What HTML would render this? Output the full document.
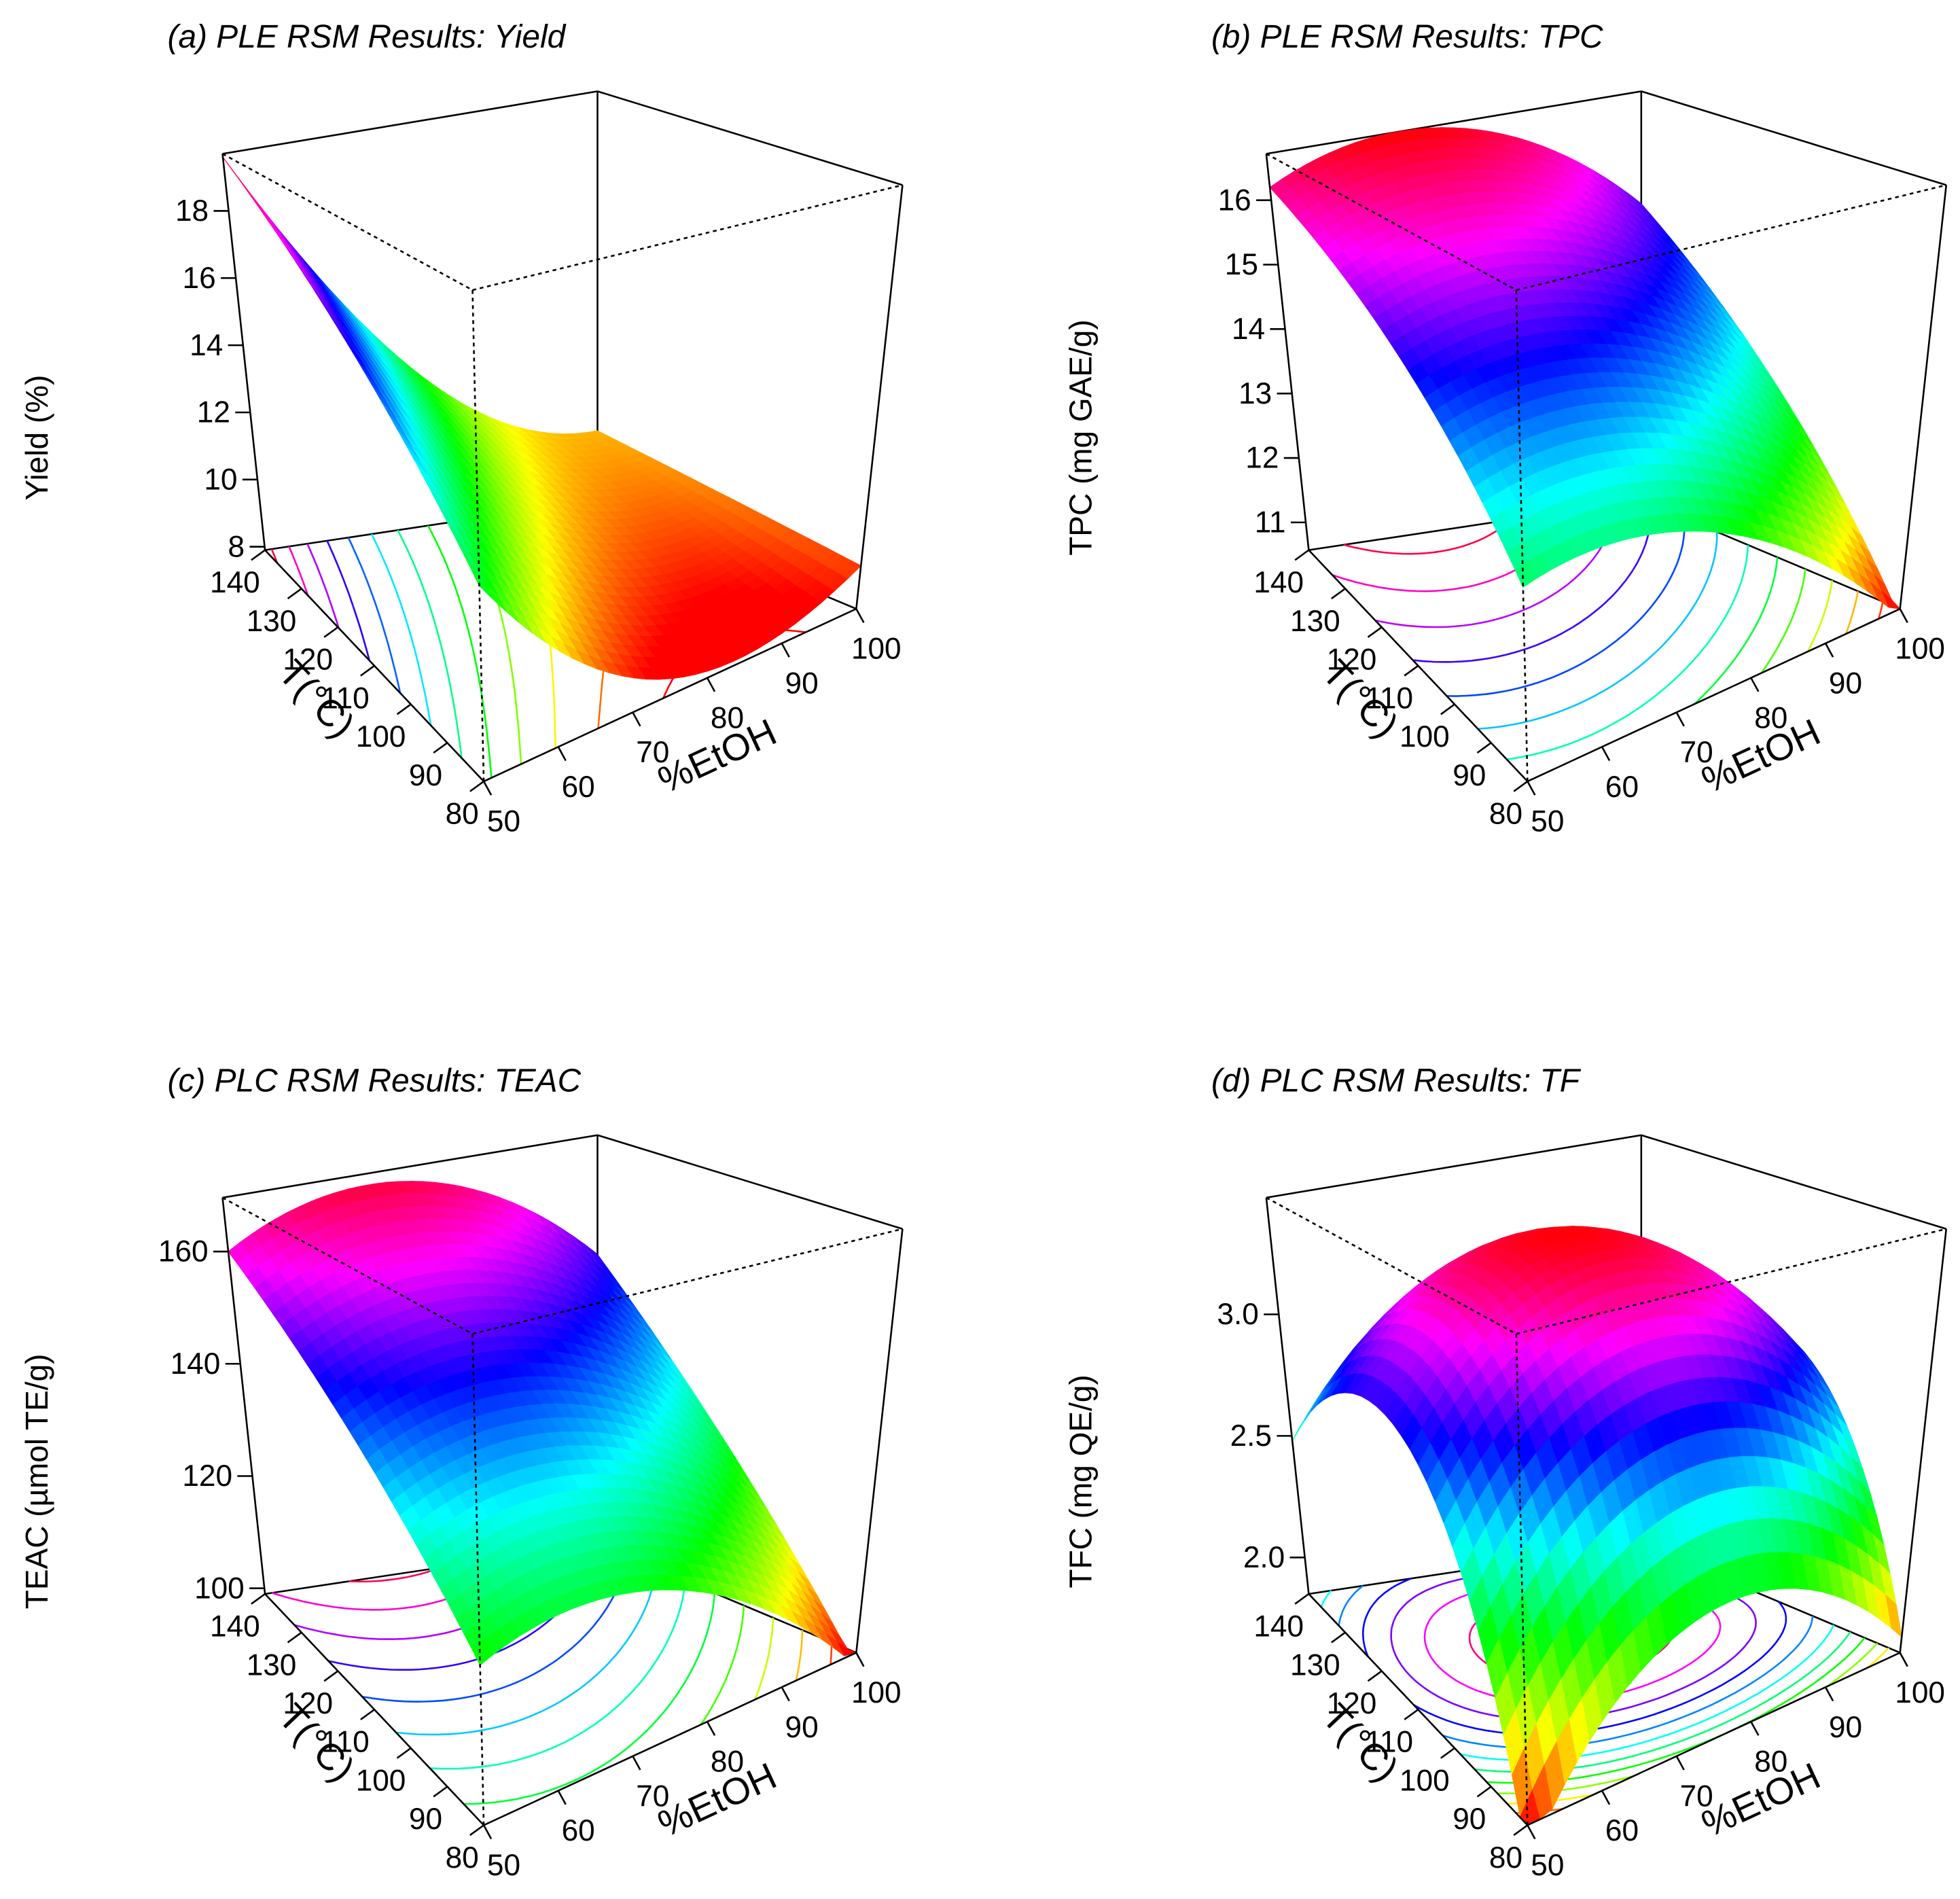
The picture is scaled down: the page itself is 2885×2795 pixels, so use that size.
<!DOCTYPE html>
<html><head><meta charset="utf-8">
<style>
html,body{margin:0;padding:0;background:#fff;}
svg{display:block;font-family:"Liberation Sans",Arial,sans-serif;}
</style></head>
<body>
<svg id="fig" xmlns="http://www.w3.org/2000/svg" width="2885" height="2795" viewBox="0 0 1568 1519">
<rect x="0" y="0" width="1568" height="1519" fill="#fff"/>
</svg>
<script>
// ---- chart data ----
const panelTitles = ["(a) PLE RSM Results: Yield","(b) PLE RSM Results: TPC","(c) PLC RSM Results: TEAC","(d) PLC RSM Results: TF"];
const zTitles = ["Yield (%)","TPC (mg GAE/g)","TEAC (\u00b5mol TE/g)","TFC (mg QE/g)"];
const zRanges = [[7.9,19.7],[10.57,16.72],[99,169.6],[1.85,3.48]];
const colorRanges = [[8.6,19.6],[10.6,16.7],[99,170],[1.8,3.4]];
const zTicksA = [8,10,12,14,16,18];
const zTicksB = [11,12,13,14,15,16];
const zTicksC = [100,120,140,160];
const zTicksD = [2.0,2.5,3.0];
const zDecimals = [0,0,0,1];
const tTicks = [80,90,100,110,120,130,140];
const etohTicks = [50,60,70,80,90,100];
const tRange = [80,140];
const etohRange = [50,100];
// fitted quadratic model coefficients [b0, bEtOH, bT, bEtOH^2, bT^2, bEtOH*T] on coded 0..1 axes
const coefYield = [12.6,-13.6,7.0,10.1,0,-6.2];
const coefTPC = [13.0,1.56,4.2,-4.1,-1.0,1.37];
const coefTEAC = [122,25,38,-50,0,14];
const coefTF = [1.73,2.18,3.75,-2.0,-3.0,-0.3];

const NS="http://www.w3.org/2000/svg";
const svg=document.getElementById('fig');
const offsets=[[0,0],[835,0],[0,835],[835,835]];
const allTicks=[zTicksA,zTicksB,zTicksC,zTicksD];
const allCoef=[coefYield,coefTPC,coefTEAC,coefTF];
const corners={'000':[387,625],'100':[685,487],'010':[212,440],'110':[478,400],
'001':[378,232],'101':[722,148],'011':[178,123],'111':[478,73]};
function bil(u,v,w){const a=corners['00'+w],b=corners['10'+w],c=corners['01'+w],d=corners['11'+w];
 return [a[0]*(1-u)*(1-v)+b[0]*u*(1-v)+c[0]*(1-u)*v+d[0]*u*v, a[1]*(1-u)*(1-v)+b[1]*u*(1-v)+c[1]*(1-u)*v+d[1]*u*v];}
function proj(u,v,w,o){const p0=bil(u,v,0),p1=bil(u,v,1);return [o[0]+p0[0]+(p1[0]-p0[0])*w,o[1]+p0[1]+(p1[1]-p0[1])*w];}
function mk(tag,attrs,parent){const e=document.createElementNS(NS,tag);for(const k in attrs)e.setAttribute(k,attrs[k]);(parent||svg).appendChild(e);return e;}
function col(t){t=Math.max(0,Math.min(1,t));return 'hsl('+(358*t).toFixed(1)+',100%,50%)';}
function f(c,u,v){return c[0]+c[1]*u+c[2]*v+c[3]*u*u+c[4]*v*v+c[5]*u*v;}
function line(g,a,b,dash,name){const e=mk('line',{x1:a[0],y1:a[1],x2:b[0],y2:b[1],stroke:'#000','stroke-width':1.4},g);
 if(dash)e.setAttribute('stroke-dasharray','3,3');
 
 return e;}

for(let p=0;p<4;p++){
 const o=offsets[p],c=allCoef[p],zr=zRanges[p],cr=colorRanges[p];
 const W=z=>(z-zr[0])/(zr[1]-zr[0]);
 const CT=z=>(z-cr[0])/(cr[1]-cr[0]);
 const g=mk('g',{});
 
 
 const tt=mk('text',{x:134+o[0],y:38+o[1],'font-size':26,'font-style':'italic'},g);tt.textContent=panelTitles[p];
 
 
 const zt=mk('text',{x:0,y:0,'font-size':25,'text-anchor':'middle',transform:'translate('+(38+o[0])+','+(350+o[1])+') rotate(-90)'},g);zt.textContent=zTitles[p];
 
 
 // back edges
 line(g,proj(0,1,1,o),proj(1,1,1,o),false,'box-edge');
 line(g,proj(1,1,1,o),proj(1,0,1,o),false,'box-edge');
 line(g,proj(1,1,0,o),proj(1,1,1,o),false,'box-edge');
 line(g,proj(0,1,0,o),proj(1,1,0,o),false,'box-edge');
 line(g,proj(1,1,0,o),proj(1,0,0,o),false,'box-edge');
 // contours on base
 const N=48,grid=[];
 for(let i=0;i<=N;i++){grid.push([]);for(let j=0;j<=N;j++)grid[i].push(f(c,i/N,j/N));}
 for(let k=0;k<12;k++){
  const L=zr[0]+(k+0.5)*(zr[1]-zr[0])/12;let d='';
  for(let i=0;i<N;i++)for(let j=0;j<N;j++){
   const pts=[];const cs=[[i,j],[i+1,j],[i+1,j+1],[i,j+1]];
   for(let e=0;e<4;e++){const a=cs[e],b=cs[(e+1)%4];const va=grid[a[0]][a[1]],vb=grid[b[0]][b[1]];
    if((va<L)!==(vb<L)){const t=(L-va)/(vb-va);pts.push([(a[0]+(b[0]-a[0])*t)/N,(a[1]+(b[1]-a[1])*t)/N]);}}
   for(let q=0;q+1<pts.length;q+=2){const A=proj(pts[q][0],pts[q][1],0,o),B=proj(pts[q+1][0],pts[q+1][1],0,o);
    d+='M'+A[0].toFixed(1)+' '+A[1].toFixed(1)+'L'+B[0].toFixed(1)+' '+B[1].toFixed(1);}
  }
  if(d){const cp=mk('path',{d:d,fill:'none',stroke:col(CT(L)),'stroke-width':1.4},g);
   
   }
 }
 // surface
 const M=30,facets=[];
 for(let i=0;i<M;i++)for(let j=0;j<M;j++)facets.push([i,j]);
 facets.sort((a,b)=>(138*b[0]+185*b[1])-(138*a[0]+185*a[1]));
 const sg=mk('g',{},g);
 
 
 for(const [i,j] of facets){
  const q=[[i,j],[i+1,j],[i+1,j+1],[i,j+1]].map(([a,b])=>{const u=a/M,v=b/M;return proj(u,v,Math.max(0,Math.min(1,W(f(c,u,v)))),o);});
  const zc=f(c,(i+.5)/M,(j+.5)/M);const cl=col(CT(zc));
  const poly=mk('polygon',{points:q.map(P=>P[0].toFixed(1)+','+P[1].toFixed(1)).join(' '),fill:cl,stroke:cl,'stroke-width':0.6},sg);
  
  
 }
 // front edges
 line(g,proj(0,1,1,o),proj(0,0,1,o),true,'box-edge-hidden');
 line(g,proj(0,0,1,o),proj(1,0,1,o),true,'box-edge-hidden');
 line(g,proj(0,0,0,o),proj(0,0,1,o),true,'box-edge-hidden');
 line(g,proj(0,1,0,o),proj(0,1,1,o),false,'z-axis-line');
 line(g,proj(1,0,0,o),proj(1,0,1,o),false,'box-edge');
 line(g,proj(0,1,0,o),proj(0,0,0,o),false,'t-axis-line');
 line(g,proj(0,0,0,o),proj(1,0,0,o),false,'etoh-axis-line');
 // z ticks
 for(const z of allTicks[p]){const P=proj(0,1,W(z),o);
  line(g,P,[P[0]-12,P[1]],false,'z-tick');
  const t=mk('text',{x:P[0]-16,y:P[1]+8,'font-size':24,'text-anchor':'end'},g);t.textContent=z.toFixed(zDecimals[p]);
  
  }
 for(const T of tTicks){const v=(T-tRange[0])/(tRange[1]-tRange[0]);const P=proj(0,v,0,o);
  line(g,P,[P[0]-11,P[1]+8],false,'t-tick');
  const t=mk('text',{x:P[0]-4,y:P[1]+34,'font-size':24,'text-anchor':'end'},g);t.textContent=T;
  
  }
 for(const E of etohTicks){const u=(E-etohRange[0])/(etohRange[1]-etohRange[0]);const P=proj(u,0,0,o);
  line(g,P,[P[0]+6,P[1]+11],false,'etoh-tick');
  const t=mk('text',{x:P[0]+16,y:P[1]+40,'font-size':24,'text-anchor':'middle'},g);t.textContent=E;
  
  }
 const ta=mk('text',{x:0,y:0,'font-size':30,'text-anchor':'middle',transform:'translate('+(246+o[0])+','+(566+o[1])+') rotate(46.6)'},g);ta.textContent='T(\u00b0C)';
 
 
 const ea=mk('text',{x:0,y:0,'font-size':30,'text-anchor':'middle',transform:'translate('+(578+o[0])+','+(614+o[1])+') rotate(-24.8)'},g);ea.textContent='%EtOH';
 
 
}
</script>
</body></html>
